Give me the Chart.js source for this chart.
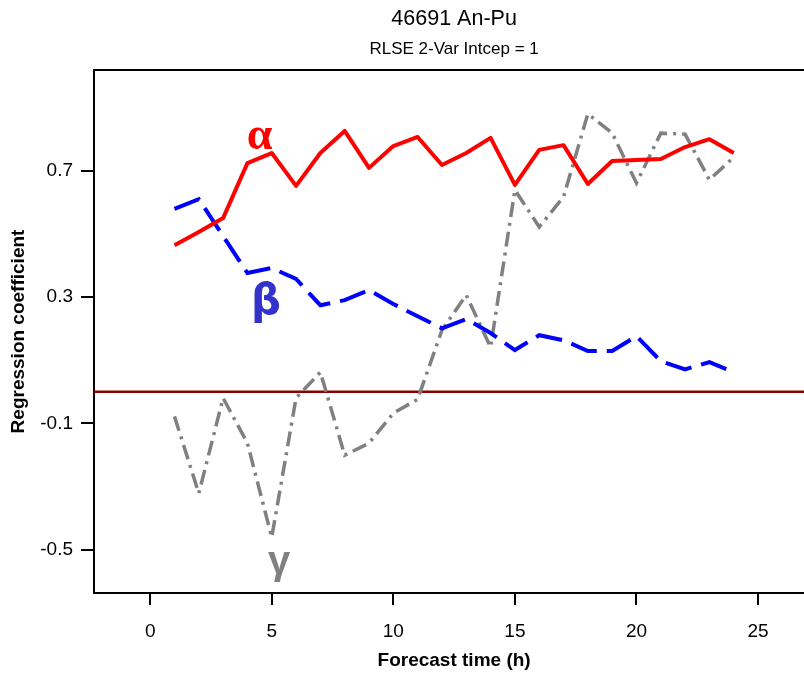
<!DOCTYPE html>
<html>
<head>
<meta charset="utf-8">
<script src="https://cdn.jsdelivr.net/npm/chart.js@4.4.1/dist/chart.umd.min.js"></script>
<style>
html,body{margin:0;padding:0;background:#ffffff;overflow:hidden}
canvas{display:block}
</style>
</head>
<body>
<canvas id="chart" width="804" height="675"></canvas>
<script>
// ---- data ----
const hours = [1,2,3,4,5,6,7,8,9,10,11,12,13,14,15,16,17,18,19,20,21,22,23,24];
const alpha = [0.464,0.506,0.550,0.724,0.756,0.652,0.756,0.826,0.709,0.778,0.807,0.718,
               0.756,0.804,0.655,0.766,0.781,0.658,0.731,0.734,0.737,0.775,0.800,0.756];
const beta  = [0.579,0.610,0.493,0.376,0.392,0.357,0.274,0.290,0.322,0.278,0.239,0.201,
               0.230,0.186,0.132,0.179,0.163,0.129,0.129,0.176,0.097,0.071,0.094,0.062];
const gamma = [-0.078,-0.322,-0.020,-0.163,-0.461,-0.020,0.062,-0.201,-0.163,-0.068,-0.024,0.195,
               0.306,0.141,0.639,0.522,0.617,0.880,0.819,0.661,0.819,0.816,0.671,0.743];
const xTicks = [0,5,10,15,20,25];
const yTicks = [-0.5,-0.1,0.3,0.7];
const refLine = 0;
const seriesNames = ['\u03B1','\u03B2','\u03B3'];
const titleText = '46691 An-Pu';
const subtitleText = 'RLSE 2-Var Intcep = 1';
const xTitleText = 'Forecast time (h)';
const yTitleText = 'Regression coefficient';

const toPts = arr => hours.map((h,i) => ({x:h, y:arr[i]}));

const SANS = '"Liberation Sans", Arial, Helvetica, sans-serif';

const decor = {
  id: 'decor',
  beforeDatasetsDraw(chart) {
    const {ctx, chartArea:a, scales:{y}} = chart;
    const py = y.getPixelForValue(refLine);
    ctx.save();
    ctx.strokeStyle = '#8b0000';
    ctx.lineWidth = 2.5;
    ctx.beginPath(); ctx.moveTo(a.left, py); ctx.lineTo(a.right, py); ctx.stroke();
    ctx.restore();
  },
  afterDraw(chart) {
    const {ctx, chartArea:a, scales:{x,y}} = chart;
    ctx.save();
    // top border of the plot box
    ctx.strokeStyle = '#000'; ctx.lineWidth = 2;
    ctx.beginPath(); ctx.moveTo(a.left, a.top); ctx.lineTo(a.right, a.top); ctx.stroke();

    const cx = x.getPixelForValue(12.5);
    ctx.fillStyle = '#000';
    ctx.textAlign = 'center'; ctx.textBaseline = 'middle';
    ctx.font = '21.5px ' + SANS;
    ctx.fillText(titleText, cx, 19);
    ctx.font = '17px ' + SANS;
    ctx.fillText(subtitleText, cx, 49);
    ctx.font = 'bold 19px ' + SANS;
    ctx.fillText(xTitleText, cx, 661);
    ctx.save();
    ctx.translate(19, (a.top + a.bottom) / 2);
    ctx.rotate(-Math.PI / 2);
    ctx.fillText(yTitleText, 0, 0);
    ctx.restore();

    // greek series labels
    ctx.textBaseline = 'alphabetic';
    ctx.font = 'bold 46px "Liberation Serif", "DejaVu Serif", serif';
    ctx.fillStyle = '#ff0000';
    ctx.fillText(seriesNames[0], x.getPixelForValue(4.50), y.getPixelForValue(0.770));
    ctx.font = 'bold 42px "DejaVu Sans", sans-serif';
    ctx.fillStyle = '#3333cc';
    ctx.fillText(seriesNames[1], x.getPixelForValue(4.77), y.getPixelForValue(0.246));
    ctx.font = 'bold 40px "Liberation Sans", sans-serif';
    ctx.fillStyle = '#808080';
    ctx.fillText(seriesNames[2], x.getPixelForValue(5.30), y.getPixelForValue(-0.578));
    ctx.restore();
  }
};

new Chart(document.getElementById('chart'), {
  type: 'line',
  data: {
    datasets: [
      { label: seriesNames[0], data: toPts(alpha), borderColor: '#ff0000', borderWidth: 4,
        pointRadius: 0, tension: 0, fill: false, borderCapStyle: 'butt', borderJoinStyle: 'round' },
      { label: seriesNames[1], data: toPts(beta), borderColor: '#0000ff', borderWidth: 4,
        borderDash: [27, 10], pointRadius: 0, tension: 0, fill: false, borderCapStyle: 'butt' },
      { label: seriesNames[2], data: toPts(gamma), borderColor: '#808080', borderWidth: 3.5,
        borderDash: [15, 6, 3, 6], pointRadius: 0, tension: 0, fill: false, borderCapStyle: 'butt' }
    ]
  },
  options: {
    responsive: false,
    animation: false,
    devicePixelRatio: 1,
    layout: { padding: { top: 70, right: 0, left: 0, bottom: 0 } },
    plugins: { legend: { display: false }, tooltip: { enabled: false }, title: { display: false } },
    scales: {
      x: {
        type: 'linear', min: -2.31, max: 26.89,
        afterBuildTicks: s => { s.ticks = xTicks.map(v => ({value: v})); },
        afterFit: s => { s.height = 82; },
        ticks: { color: '#000', font: { size: 19, family: SANS }, padding: 15, maxRotation: 0,
                 callback: v => String(v) },
        grid: { drawOnChartArea: false, drawTicks: true, tickLength: 12, color: '#000', lineWidth: 2 },
        border: { display: true, color: '#000', width: 2 }
      },
      y: {
        type: 'linear', min: -0.6375, max: 1.019,
        afterBuildTicks: s => { s.ticks = yTicks.map(v => ({value: v})); },
        afterFit: s => { s.width = 94; },
        ticks: { color: '#000', font: { size: 19, family: SANS }, padding: 8,
                 callback: v => v.toFixed(1) },
        grid: { drawOnChartArea: false, drawTicks: true, tickLength: 13, color: '#000', lineWidth: 2 },
        border: { display: true, color: '#000', width: 2 }
      }
    }
  },
  plugins: [decor]
});
</script>
</body>
</html>
